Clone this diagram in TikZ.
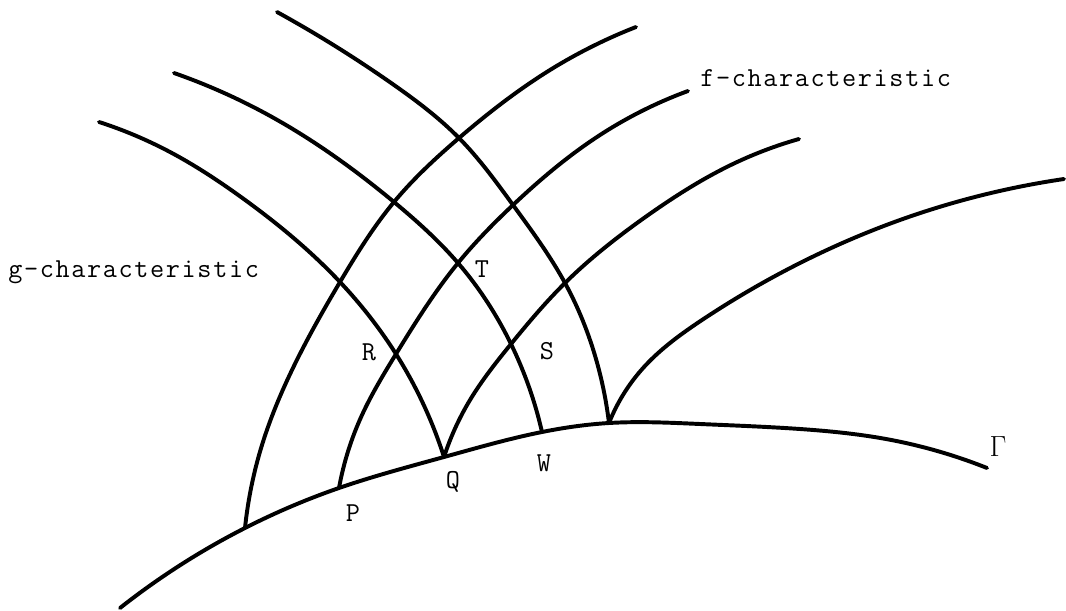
\documentclass[tikz,border=0pt]{standalone}
\usepackage{fontspec}
\setmonofont{Latin Modern Mono}[LetterSpace=6]
\usetikzlibrary{hobby}
\begin{document}
\begin{tikzpicture}[x=0.025cm,y=-0.025cm,
  curve/.style={line width=2.8pt,line cap=round,line join=round,use Hobby shortcut},
  lbl/.style={font=\fontsize{19.5}{23}\selectfont\ttfamily,inner sep=0pt}]
\useasboundingbox (0,0) rectangle (1066,611);
% points on the initial curve Gamma
\coordinate (A) at (245,528);
\coordinate (P) at (339,488);
\coordinate (Q) at (444,457);
\coordinate (W) at (542,432);
\coordinate (V) at (609,423);
% intersections
\coordinate (R) at (396,354);
\coordinate (S) at (511,344);
\coordinate (T) at (458,263);
\coordinate (X1) at (340,282);
\coordinate (X2) at (394,202);
\coordinate (X3) at (459,138);
\coordinate (X4) at (513,205);
\coordinate (X5) at (565,283);
% Gamma
\draw[curve] (120,608) .. (A) .. (P) .. (Q) .. (W) .. (V) .. (700,424) .. (800,429) .. (886,439) .. (987,468);
% f-characteristics
\draw[curve] (A) .. (262,445) .. (292,370) .. (X1) .. (X2) .. (X3) .. (550,70) .. (636,27);
\draw[curve] (P) .. (362,415) .. (R) .. (T) .. (X4) .. (600,135) .. (688,91);
\draw[curve] (Q) .. (470,400) .. (S) .. (X5) .. (644,218) .. (735,163) .. (799,139);
\draw[curve] (V) .. (644,367) .. (702,320) .. (800,263) .. (900,220) .. (1064,179);
% g-characteristics
\draw[curve] (Q) .. (R) .. (X1) .. (241,197) .. (170,152) .. (99,122);
\draw[curve] (W) .. (S) .. (T) .. (X2) .. (272,117) .. (174,73);
\draw[curve] (V) .. (599,370) .. (X5) .. (X4) .. (X3) .. (394,85) .. (277,12);
% labels
\node[lbl,anchor=base west] (fl) at (700,87) {f-characteristic};
\node[lbl,anchor=base west] (gl) at (8,277) {g-characteristic};
\node[lbl] (lT) at (482,269) {T};
\node[lbl] (lR) at (369,352) {R};
\node[lbl] (lS) at (547,351) {S};
\node[lbl] (lP) at (353,513) {P};
\node[lbl] (lQ) at (453,482) {Q};
\node[lbl] (lW) at (544,463) {W};
\node[inner sep=0pt,font=\fontsize{19.5}{23}\selectfont] (lG) at (998,447) {$\Gamma$};
\end{tikzpicture}
\end{document}
